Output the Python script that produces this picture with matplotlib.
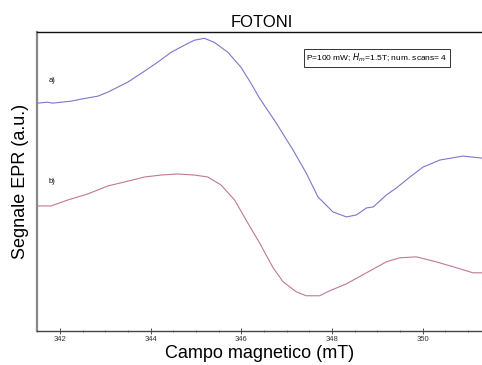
import matplotlib
matplotlib.use("Agg")
import matplotlib.pyplot as plt
from matplotlib.ticker import MultipleLocator

plt.rcParams['font.family'] = ['Liberation Sans', 'DejaVu Sans']

# Curve a) (blue)
field_a = [341.50, 341.72, 341.83, 342.24, 342.46, 342.83, 343.05, 343.49, 343.86,
           344.15, 344.45, 344.74, 344.96, 345.18, 345.40, 345.70, 345.99, 346.21,
           346.40, 346.77, 347.14, 347.43, 347.69, 348.02, 348.32, 348.54, 348.76,
           348.91, 349.20, 349.42, 349.72, 350.01, 350.38, 350.89, 351.30]
signal_a = [228, 229, 228, 230, 232, 235, 239, 249, 260,
            269, 279, 286, 291, 293, 289, 279, 264, 248,
            233, 208, 181, 158, 134, 119, 114, 116, 123,
            124, 136, 143, 154, 164, 171, 175, 173]

# Curve b) (red)
field_b = [341.50, 341.80, 342.17, 342.61, 343.05, 343.42, 343.86, 344.23, 344.59,
           344.96, 345.26, 345.55, 345.85, 346.14, 346.40, 346.70, 346.92, 347.21,
           347.43, 347.73, 347.95, 348.32, 348.76, 349.20, 349.49, 349.86, 350.30,
           350.75, 351.11, 351.30]
signal_b = [125, 125, 131, 137, 145, 149, 154, 156, 157,
            156, 154, 146, 131, 108, 88, 63, 49, 39,
            35, 35, 40, 47, 58, 69, 73, 74, 69,
            63, 58, 58]

xticks = [342, 344, 346, 348, 350]

fig = plt.figure(figsize=(4.82, 3.65), dpi=100)
ax = fig.add_axes([0.0778, 0.094, 0.9222, 0.8175])

ax.plot(field_a, signal_a, color='#7878cc', lw=0.8)
ax.plot(field_b, signal_b, color='#c07896', lw=0.8)

ax.set_xlim(341.5, 351.31)
ax.set_ylim(0, 299)
ax.set_xticks(xticks)
ax.xaxis.set_minor_locator(MultipleLocator(0.5))
ax.set_yticks([])
ax.tick_params(axis='x', which='major', direction='inout', length=4, width=0.6,
               labelsize=5.5, pad=1.5, colors='#333333')
ax.tick_params(axis='x', which='minor', direction='inout', length=2, width=0.5,
               colors='#555555')

ax.spines['right'].set_visible(False)
ax.spines['left'].set_color('#888888')
ax.spines['left'].set_linewidth(1.6)
ax.spines['top'].set_color('#111111')
ax.spines['top'].set_linewidth(1.0)
ax.spines['bottom'].set_color('#444444')
ax.spines['bottom'].set_linewidth(1.0)

ax.text(341.75, 251, 'a)', fontsize=5.5, va='center', ha='left')
ax.text(341.75, 149, 'b)', fontsize=5.5, va='center', ha='left')

ax.text(0.764, 0.914, r'P=100 mW; $H_m$=1.5T; num. scans= 4', transform=ax.transAxes,
        fontsize=6, ha='center', va='center',
        bbox=dict(boxstyle='square,pad=0.3', fc='white', ec='#333333', lw=0.7))

ax.set_title('FOTONI', fontsize=12, pad=4, x=0.505)
ax.set_xlabel('Campo magnetico (mT)', fontsize=13, labelpad=2)
ax.set_ylabel('Segnale EPR (a.u.)', fontsize=13, labelpad=6)

fig.savefig('out.png', dpi=100)
